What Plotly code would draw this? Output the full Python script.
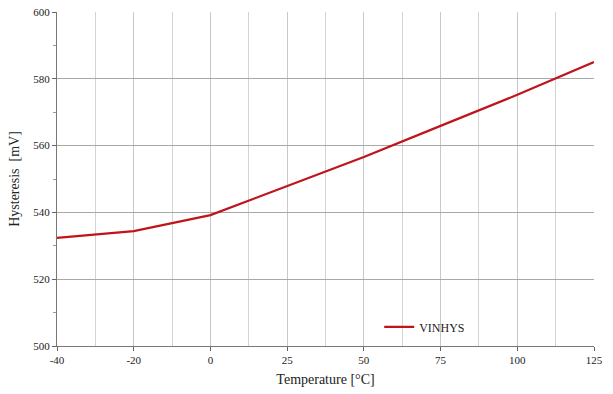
import plotly.graph_objects as go

temps = ["-40", "-20", "0", "25", "50", "75", "100", "125"]
vinhys = [532.4, 534.4, 539.2, 547.8, 556.6, 565.9, 575.2, 585.0]

xidx = list(range(len(temps)))

fig = go.Figure()
fig.add_trace(go.Scatter(
    x=xidx, y=vinhys, mode="lines", name="VINHYS",
    line=dict(color="#c0141c", width=2.2),
))

font = "Liberation Serif, Times New Roman, serif"
fig.update_layout(
    width=613, height=394,
    margin=dict(l=57, r=19, t=12, b=48, autoexpand=False),
    paper_bgcolor="white", plot_bgcolor="white",
    font=dict(family=font, size=11, color="#222"),
    showlegend=True,
    legend=dict(x=0.60, y=0.057, xanchor="left", yanchor="middle",
                bgcolor="rgba(255,255,255,0)", font=dict(size=12, family=font),
                itemwidth=30),
    xaxis=dict(
        range=[0, len(temps) - 1], automargin=False,
        tickmode="array", tickvals=xidx, ticktext=temps,
        showgrid=True, gridcolor="#c8c8c8", gridwidth=1,
        minor=dict(dtick=0.5, tick0=0, showgrid=True, gridcolor="#d4d4d4", gridwidth=1),
        ticks="outside", ticklen=4, tickcolor="#666",
        showline=True, linecolor="#777", linewidth=1,
        zeroline=False,
        title=dict(text="Temperature [°C]", font=dict(size=14, family=font), standoff=8),
    ),
    yaxis=dict(
        range=[500, 600], dtick=20, automargin=False,
        showgrid=True, gridcolor="#a8a8a8", gridwidth=1,
        minor=dict(dtick=10, ticks="outside", ticklen=3, tickcolor="#999", showgrid=False),
        ticks="outside", ticklen=4, tickcolor="#666",
        showline=True, linecolor="#777", linewidth=1,
        zeroline=False,
        title=dict(text="Hysteresis  [mV]", font=dict(size=14, family=font), standoff=10),
    ),
)
fig.write_html("out.html", config={"displayModeBar": False},
               post_script="document.body.style.margin='0';")
